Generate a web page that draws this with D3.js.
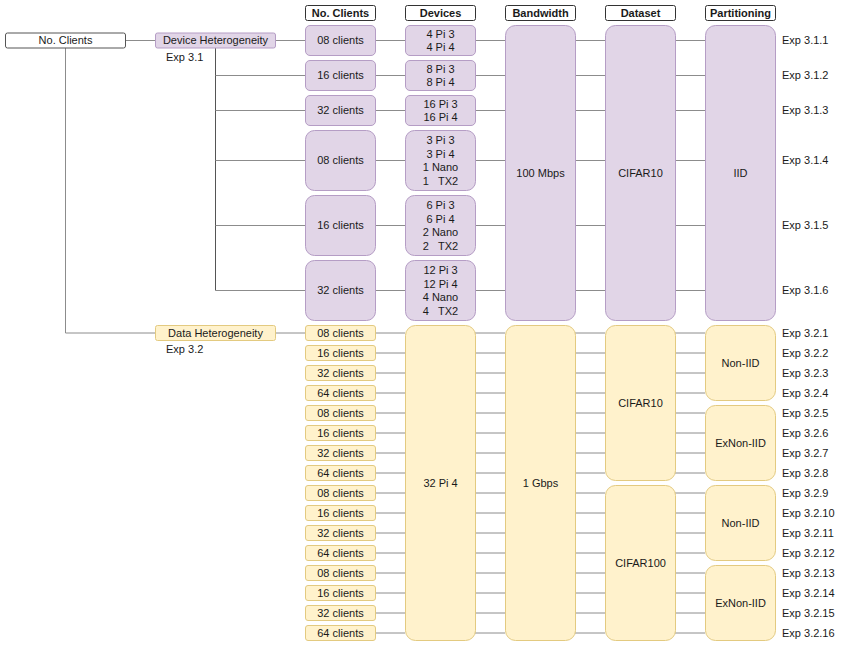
<!DOCTYPE html>
<html><head><meta charset="utf-8">
<script src="https://cdn.jsdelivr.net/npm/d3@7"></script>
<style>
html,body{margin:0;padding:0;background:#fff;}
text{font-family:"Liberation Sans",Arial,Helvetica,sans-serif;font-size:11px;fill:#1a1a1a;white-space:pre;}
</style></head>
<body><svg id="c" width="842" height="646"></svg>
<script>
// ---------- data ----------
const rootLabel = "No. Clients";
const headers = ["No. Clients","Devices","Bandwidth","Dataset","Partitioning"];
const groupLabels = ["Device Heterogeneity","Data Heterogeneity"];
const groupExps = ["Exp 3.1","Exp 3.2"];

const devClients = ["08 clients","16 clients","32 clients","08 clients","16 clients","32 clients"];
const devDevices = [
  ["4 Pi 3","4 Pi 4"],
  ["8 Pi 3","8 Pi 4"],
  ["16 Pi 3","16 Pi 4"],
  ["3 Pi 3","3 Pi 4","1 Nano","1   TX2"],
  ["6 Pi 3","6 Pi 4","2 Nano","2   TX2"],
  ["12 Pi 3","12 Pi 4","4 Nano","4   TX2"]
];
const devBandwidth = "100 Mbps";
const devDataset = "CIFAR10";
const devPartition = "IID";
const devExps = ["Exp 3.1.1","Exp 3.1.2","Exp 3.1.3","Exp 3.1.4","Exp 3.1.5","Exp 3.1.6"];

const dataClients = ["08 clients","16 clients","32 clients","64 clients",
                     "08 clients","16 clients","32 clients","64 clients",
                     "08 clients","16 clients","32 clients","64 clients",
                     "08 clients","16 clients","32 clients","64 clients"];
const dataDevices = "32 Pi 4";
const dataBandwidth = "1 Gbps";
const dataDatasets = ["CIFAR10","CIFAR100"];          // each spans 8 rows
const dataPartitions = ["Non-IID","ExNon-IID","Non-IID","ExNon-IID"]; // each spans 4 rows
const dataExps = ["Exp 3.2.1","Exp 3.2.2","Exp 3.2.3","Exp 3.2.4","Exp 3.2.5","Exp 3.2.6",
                  "Exp 3.2.7","Exp 3.2.8","Exp 3.2.9","Exp 3.2.10","Exp 3.2.11","Exp 3.2.12",
                  "Exp 3.2.13","Exp 3.2.14","Exp 3.2.15","Exp 3.2.16"];

// ---------- style ----------
const PURPLE = {fill:"#e1d5e7", stroke:"#b59dc5"};
const YELLOW = {fill:"#fff2cc", stroke:"#e3ca80"};
const LINE = "#8c8c8c";

const svg = d3.select("#c");
const gLines = svg.append("g");
const gBoxes = svg.append("g");

// column layout
const colNames = ["clients","devices","bandwidth","dataset","partition"];
const xCol = d3.scalePoint().domain(colNames).range([305,705]);
const colW = 70;
const xRoot = 5, xGroup = 155, wWide = 120;
const xExp = 782;

// vertical layout: device section
const devTop = 25, devGap = 5, lineUnit = 15;
const devH = devDevices.map(d => d.length * lineUnit);
const devY0 = devH.map((h,i) => devTop + d3.sum(devH.slice(0,i)) + i*devGap);
const devCenter = devY0.map((y,i) => y + devH[i]/2);
const devBottom = devY0[devY0.length-1] + devH[devH.length-1];

// data section: band scale (step 20, box 15)
const dataTop = devBottom + 5;
const nData = dataClients.length;
const yData = d3.scaleBand().domain(d3.range(nData))
  .range([dataTop, dataTop + 20*(nData - 0.25)]).paddingInner(0.25).paddingOuter(0);
const dataCenter = d3.range(nData).map(i => yData(i) + yData.bandwidth()/2);
const dataBottom = yData(nData-1) + yData.bandwidth();

function rr(w,h){ return Math.max(2, Math.min(w,h)*0.15); }

function box(x,y,w,h,style,lines,opts={}){
  const r = opts.r !== undefined ? opts.r : rr(w,h);
  gBoxes.append("rect").attr("x",x+0.5).attr("y",y+0.5).attr("width",w).attr("height",h)
    .attr("rx",r).attr("ry",r).attr("fill",style.fill).attr("stroke",style.stroke).attr("stroke-width",1);
  const lh = 13.5;
  const arr = Array.isArray(lines) ? lines : [lines];
  const cy = y + h/2 + 0.5;
  const t = gBoxes.append("text").attr("text-anchor","middle")
    .attr("font-weight", opts.bold ? "bold" : null);
  arr.forEach((s,i) => {
    t.append("tspan").attr("x", x + w/2 + 0.5)
     .attr("y", cy + (i - (arr.length-1)/2)*lh).attr("dy","0.35em").text(s);
  });
}
function line(x1,y1,x2,y2,color){
  gLines.append("line").attr("x1",x1).attr("y1",y1).attr("x2",x2).attr("y2",y2)
    .attr("stroke",color||LINE).attr("stroke-width",1);
}
function label(x,y,s){
  gBoxes.append("text").attr("x",x).attr("y",y).attr("dy","0.35em").text(s);
}

// headers
headers.forEach((h,i) => {
  box(xCol(colNames[i]), 5, colW, 15, {fill:"#fff",stroke:"#333"}, h, {bold:true, r:2});
});

// root + groups
const rootCy = devCenter[0];
box(xRoot, rootCy-7.5, wWide, 15, {fill:"#fff",stroke:"#555"}, rootLabel, {r:2});
box(xGroup, rootCy-7.5, wWide, 15, PURPLE, groupLabels[0], {r:2});
label(166, rootCy+17, groupExps[0]);
const dataCy = dataCenter[0];
box(xGroup, dataCy-7.5, wWide, 15, YELLOW, groupLabels[1], {r:2});
label(166, dataCy+17, groupExps[1]);

// root connections
const rootX = xRoot + wWide/2 + 0.5;
line(xRoot+wWide, rootCy+0.5, xGroup, rootCy+0.5);
line(rootX, rootCy+8, rootX, dataCy+0.5);
line(rootX, dataCy+0.5, xGroup, dataCy+0.5);
// device group tree
const gX = xGroup + wWide/2 + 0.5;
line(xGroup+wWide, rootCy+0.5, xCol("clients"), rootCy+0.5);
line(gX, rootCy+8, gX, devCenter[devCenter.length-1]+0.5, "#555");
devCenter.slice(1).forEach(c => line(gX, c+0.5, xCol("clients"), c+0.5));
line(xGroup+wWide, dataCy+0.5, xCol("clients"), dataCy+0.5);

// device rows
devCenter.forEach((c,i) => {
  colNames.slice(0,4).forEach(cn => line(xCol(cn)+colW, c+0.5, xCol(cn)+100, c+0.5));
  box(xCol("clients"), devY0[i], colW, devH[i], PURPLE, devClients[i]);
  box(xCol("devices"), devY0[i], colW, devH[i], PURPLE, devDevices[i]);
  label(xExp, c+0.5, devExps[i]);
});
const devSpanH = devBottom - devTop;
box(xCol("bandwidth"), devTop, colW, devSpanH, PURPLE, devBandwidth, {r:10});
box(xCol("dataset"), devTop, colW, devSpanH, PURPLE, devDataset, {r:10});
box(xCol("partition"), devTop, colW, devSpanH, PURPLE, devPartition, {r:10});

// data rows
dataCenter.forEach((c,i) => {
  colNames.slice(0,4).forEach(cn => line(xCol(cn)+colW, c+0.5, xCol(cn)+100, c+0.5));
  box(xCol("clients"), yData(i), colW, yData.bandwidth(), YELLOW, dataClients[i], {r:2.5});
  label(xExp, c+0.5, dataExps[i]);
});
const dataSpanH = dataBottom - dataTop;
box(xCol("devices"), dataTop, colW, dataSpanH, YELLOW, dataDevices, {r:10});
box(xCol("bandwidth"), dataTop, colW, dataSpanH, YELLOW, dataBandwidth, {r:10});
const perDs = nData / dataDatasets.length;
dataDatasets.forEach((d,i) => {
  const y0 = yData(i*perDs), y1 = yData((i+1)*perDs-1) + yData.bandwidth();
  box(xCol("dataset"), y0, colW, y1-y0, YELLOW, d, {r:10});
});
const perPt = nData / dataPartitions.length;
dataPartitions.forEach((d,i) => {
  const y0 = yData(i*perPt), y1 = yData((i+1)*perPt-1) + yData.bandwidth();
  box(xCol("partition"), y0, colW, y1-y0, YELLOW, d, {r:10});
});
</script></body></html>
